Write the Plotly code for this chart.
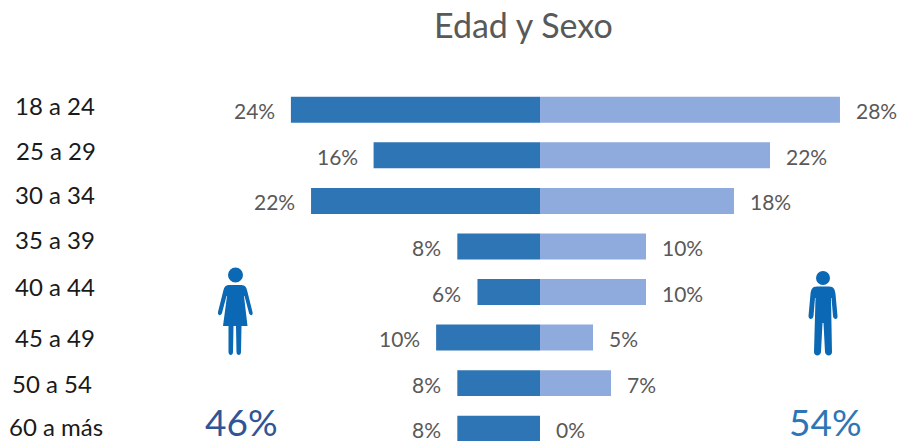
import plotly.graph_objects as go

W, H = 898, 441
TOP = 87
FONT = "Lato"
TXT = "#595959"

# Data
age_groups = ["18 a 24", "25 a 29", "30 a 34", "35 a 39", "40 a 44", "45 a 49", "50 a 54", "60 a más"]
female_pct = [23.5, 15.7, 21.6, 7.8, 5.9, 9.8, 7.8, 7.8]
male_pct = [28.3, 21.7, 18.3, 10.0, 10.0, 5.0, 6.7, 0.0]
female_labels = ["24%", "16%", "22%", "8%", "6%", "10%", "8%", "8%"]
male_labels = ["28%", "22%", "18%", "10%", "10%", "5%", "7%", "0%"]
female_total = "46%"
male_total = "54%"
title_text = "Edad y Sexo"

# Free-standing category text boxes (pixel placement, as in the reference)
cat_left_px = [12.5, 13.5, 12.5, 12.5, 12.5, 12.5, 9.5, 6.5]
cat_mid_px = [105, 150, 194, 240, 286, 337, 383, 426]


def px(x):
    return x / W


def py(y):
    return (H - y) / (H - TOP)


def path(cmds):
    """Build an SVG path in paper coordinates from pixel-based commands."""
    out = []
    for c in cmds:
        out.append(c if isinstance(c, str) else f"{px(c[0]):.5f},{py(c[1]):.5f}")
    return " ".join(out)


def circle(cx, cy, r, color):
    return dict(type="circle", xref="paper", yref="paper",
                x0=px(cx - r), x1=px(cx + r), y0=py(cy + r), y1=py(cy - r),
                fillcolor=color, line_width=0, layer="above")


ICON = "#0A68B4"

woman_body = path([
    "M", (229, 285), "C", (224, 285), (224, 289), (223, 292), "L", (218, 312),
    "C", (217.5, 316), (221, 316), (222, 313), "L", (226.5, 296), "L", (227, 296),
    "L", (223, 326), "L", (228.5, 326), "L", (228.5, 352), "C", (228.5, 356), (233, 356), (233, 352),
    "L", (233.5, 326), "L", (236, 326), "L", (236.5, 352), "C", (236.5, 356), (241, 356), (241, 352),
    "L", (241.5, 326), "L", (247.5, 326), "L", (244, 296), "L", (244.5, 296), "L", (249, 313),
    "C", (250, 316), (253.5, 316), (252.5, 312), "L", (247.5, 292),
    "C", (246.5, 288), (246, 285), (241, 285), "Z",
])

man_body = path([
    "M", (817, 286.5), "C", (812, 286.5), (811, 290), (810.5, 294), "L", (808.5, 316),
    "C", (808.5, 320), (813, 320), (813.5, 316), "L", (815, 298), "L", (815.5, 298),
    "L", (814, 352), "C", (814, 356.5), (820.5, 356.5), (821, 352), "L", (822.5, 323), "L", (823.5, 323),
    "L", (825, 352), "C", (825.5, 356.5), (832, 356.5), (832, 352), "L", (831, 298), "L", (831.5, 298),
    "L", (833, 316), "C", (833.5, 320), (838, 320), (837.5, 316), "L", (835.5, 294),
    "C", (835, 290), (834, 286.5), (829, 286.5), "Z",
])

shapes = [
    circle(235.5, 275, 7.5, ICON),
    dict(type="path", xref="paper", yref="paper", path=woman_body, fillcolor=ICON, line_width=0, layer="above"),
    circle(823, 278, 7, ICON),
    dict(type="path", xref="paper", yref="paper", path=man_body, fillcolor=ICON, line_width=0, layer="above"),
]

fig = go.Figure()
fig.add_bar(y=age_groups, x=[-v for v in female_pct], orientation="h", marker=dict(color="#2E75B6", line_width=0), name="Mujer")
fig.add_bar(y=age_groups, x=male_pct, orientation="h", marker=dict(color="#8FAADC", line_width=0), name="Hombre")

annotations = []
for cat, f, m, fl, ml in zip(age_groups, female_pct, male_pct, female_labels, male_labels):
    annotations.append(dict(x=-f, y=cat, text=fl, xref="x", yref="y", xanchor="right", yanchor="middle",
                            xshift=-14, yshift=-1, showarrow=False, font=dict(family=FONT, size=21, color=TXT)))
    annotations.append(dict(x=m, y=cat, text=ml, xref="x", yref="y", xanchor="left", yanchor="middle",
                            xshift=14, yshift=-1, showarrow=False, font=dict(family=FONT, size=21, color=TXT)))

for cat, l, mid in zip(age_groups, cat_left_px, cat_mid_px):
    annotations.append(dict(x=px(l), y=py(mid), text=cat, xref="paper", yref="paper", xanchor="left", yanchor="middle",
                            showarrow=False, font=dict(family=FONT, size=24, color="#1A1A1A")))

annotations.append(dict(x=px(523.5), y=py(24), text=title_text, xref="paper", yref="paper", xanchor="center", yanchor="middle",
                        showarrow=False, font=dict(family=FONT, size=34, color=TXT)))
annotations.append(dict(x=px(241), y=py(421), text=female_total, xref="paper", yref="paper", xanchor="center", yanchor="middle",
                        height=38, showarrow=False, font=dict(family=FONT, size=37, color="#2F5597")))
annotations.append(dict(x=px(825), y=py(421), text=male_total, xref="paper", yref="paper", xanchor="center", yanchor="middle",
                        height=38, showarrow=False, font=dict(family=FONT, size=37, color="#2E75B6")))

UNIT = 10.6
fig.update_layout(
    width=W, height=H, autosize=False,
    margin=dict(l=0, r=0, t=TOP, b=0, pad=0),
    paper_bgcolor="white", plot_bgcolor="white",
    barmode="relative", bargap=0.43, showlegend=False,
    xaxis=dict(range=[-540 / UNIT, (W - 540) / UNIT], visible=False, fixedrange=True),
    yaxis=dict(type="category", categoryorder="array", categoryarray=age_groups,
               range=[7.27, -0.5], visible=False, fixedrange=True),
    annotations=annotations, shapes=shapes,
)
fig.write_html("out.html", config=dict(displayModeBar=False),
               post_script="document.body.style.margin='0';document.body.style.overflow='hidden';")
